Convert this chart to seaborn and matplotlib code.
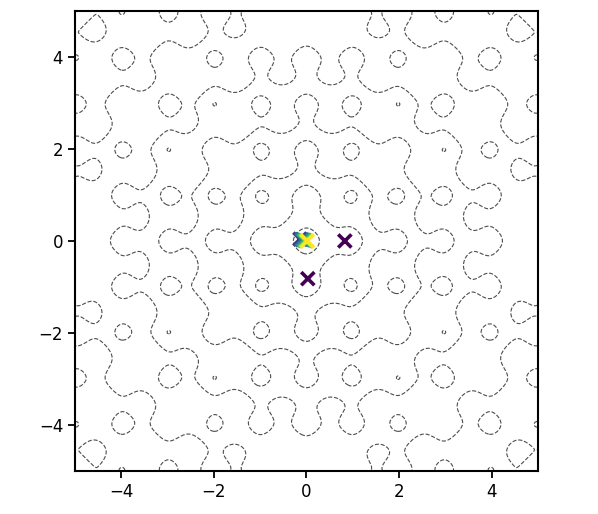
import numpy as np
import pandas as pd
import matplotlib
matplotlib.use("Agg")
import matplotlib.pyplot as plt
import seaborn as sns

# Contour levels of the Ackley surface
contour_levels = [2, 4, 6, 8, 10, 12, 14]

# Optimiser samples (x, y, colour value)
pts_x = [0.83, 0.03, -0.14, -0.10, -0.06, -0.03, 0.00, 0.02]
pts_y = [0.00, -0.82, 0.04, 0.03, 0.02, 0.01, 0.00, 0.00]
pts_c = [0.00, 0.00, 0.15, 0.35, 0.55, 0.70, 0.90, 1.00]

ticks = [-4, -2, 0, 2, 4]

def ackley(x, y):
    return (-20 * np.exp(-0.2 * np.sqrt(0.5 * (x**2 + y**2)))
            - np.exp(0.5 * (np.cos(2 * np.pi * x) + np.cos(2 * np.pi * y)))
            + np.e + 20)

sns.set_style("ticks")
plt.rcParams['font.family'] = ['DejaVu Sans']

fig = plt.figure(figsize=(5.98, 5.14), dpi=100)
ax = fig.add_axes([0.1254, 0.0837, 0.774, 0.895])

g = np.linspace(-5, 5, 500)
X, Y = np.meshgrid(g, g)
Z = ackley(X, Y)
ax.contour(X, Y, Z, levels=contour_levels, colors='0.3', linestyles='dashed',
           linewidths=0.8)

df = pd.DataFrame({"x": pts_x, "y": pts_y, "c": pts_c})
sns.scatterplot(data=df, x="x", y="y", hue="c", palette="viridis",
                marker="x", s=90, linewidth=2.6, legend=False, ax=ax, zorder=3)

ax.set_xlim(-5, 5)
ax.set_ylim(-5, 5)
ax.set_xticks(ticks)
ax.set_yticks(ticks)
ax.set_xlabel("")
ax.set_ylabel("")
ax.tick_params(labelsize=12, length=5, width=1.3, colors='black')
for s in ax.spines.values():
    s.set_linewidth(1.5)
    s.set_color('black')

fig.savefig("out.png", dpi=100)
